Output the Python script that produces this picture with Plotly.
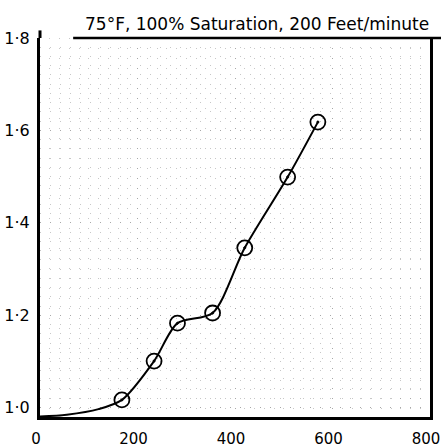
import plotly.graph_objects as go

# Measured readings
speed = [168, 234, 282, 354, 420, 508, 570]
ratio = [1.017, 1.101, 1.183, 1.205, 1.346, 1.499, 1.618]

# Hand-faired curve through the readings, starting from the origin
curve_x = [0, 55, 120, 168, 234, 282, 354, 420, 508, 570]
curve_y = [0.981, 0.985, 0.997, 1.017, 1.101, 1.183, 1.205, 1.346, 1.499, 1.618]

x_ticks = [0, 200, 400, 600, 800]
y_ticks = [1.0, 1.2, 1.4, 1.6, 1.8]

title_text = "75°F, 100% Saturation, 200 Feet/minute"

fig = go.Figure()
fig.add_trace(go.Scatter(
    x=curve_x, y=curve_y, mode="lines",
    line=dict(color="black", width=2, shape="spline", smoothing=0.8),
    hoverinfo="skip", showlegend=False,
))
fig.add_trace(go.Scatter(
    x=speed, y=ratio, mode="markers",
    marker=dict(symbol="circle-open-dot", size=15, color="black",
                line=dict(color="black", width=1.8)),
    showlegend=False,
))

dot_color = "rgba(130,130,130,0.45)"
grid_style = dict(showgrid=True, gridcolor=dot_color, gridwidth=1, griddash="1px,9px")
tick_font = dict(family="DejaVu Sans", size=16, color="black")

fig.update_xaxes(range=[0, 800], tickvals=x_ticks, ticktext=[str(v) for v in x_ticks],
                 showline=True, linecolor="black", linewidth=3, ticks="",
                 zeroline=False, ticklabeloverflow="allow", ticklabelstandoff=6,
                 ticklabelshift=-4, automargin=False,
                 tickfont=dict(family="DejaVu Sans", size=15, color="black"),
                 **grid_style,
                 minor=dict(dtick=20, tick0=0, showgrid=True, gridcolor=dot_color,
                            griddash="1px,9px"))
fig.update_yaxes(range=[0.98, 1.8], tickvals=y_ticks,
                 ticktext=[f"{v:.1f}".replace(".", "·") for v in y_ticks],
                 showline=True, linecolor="black", linewidth=3, mirror=True,
                 ticks="", zeroline=False, ticklabelstandoff=4, automargin=False,
                 tickfont=tick_font, **grid_style,
                 minor=dict(dtick=0.02, tick0=0.98, showgrid=True, gridcolor=dot_color,
                            griddash="1px,9px"))

# Underline of the heading, which also closes the top of the frame
fig.add_shape(type="line", xref="paper", yref="paper", x0=0.085, x1=1.03, y0=1, y1=1,
              line=dict(color="black", width=2.5))
# Left axis runs a little above the frame
fig.add_shape(type="line", xref="paper", yref="paper", x0=0, x1=0, y0=1, y1=1.02,
              line=dict(color="black", width=3))

fig.add_annotation(text=title_text, xref="paper", yref="paper", x=0.557, y=1.005,
                   xanchor="center", yanchor="bottom", showarrow=False,
                   font=dict(family="DejaVu Sans", size=17, color="black"))

fig.update_layout(
    width=441, height=448,
    margin=dict(l=40, r=11, t=38, b=31, autoexpand=False),
    paper_bgcolor="white", plot_bgcolor="white",
)

fig.write_html("out.html")
